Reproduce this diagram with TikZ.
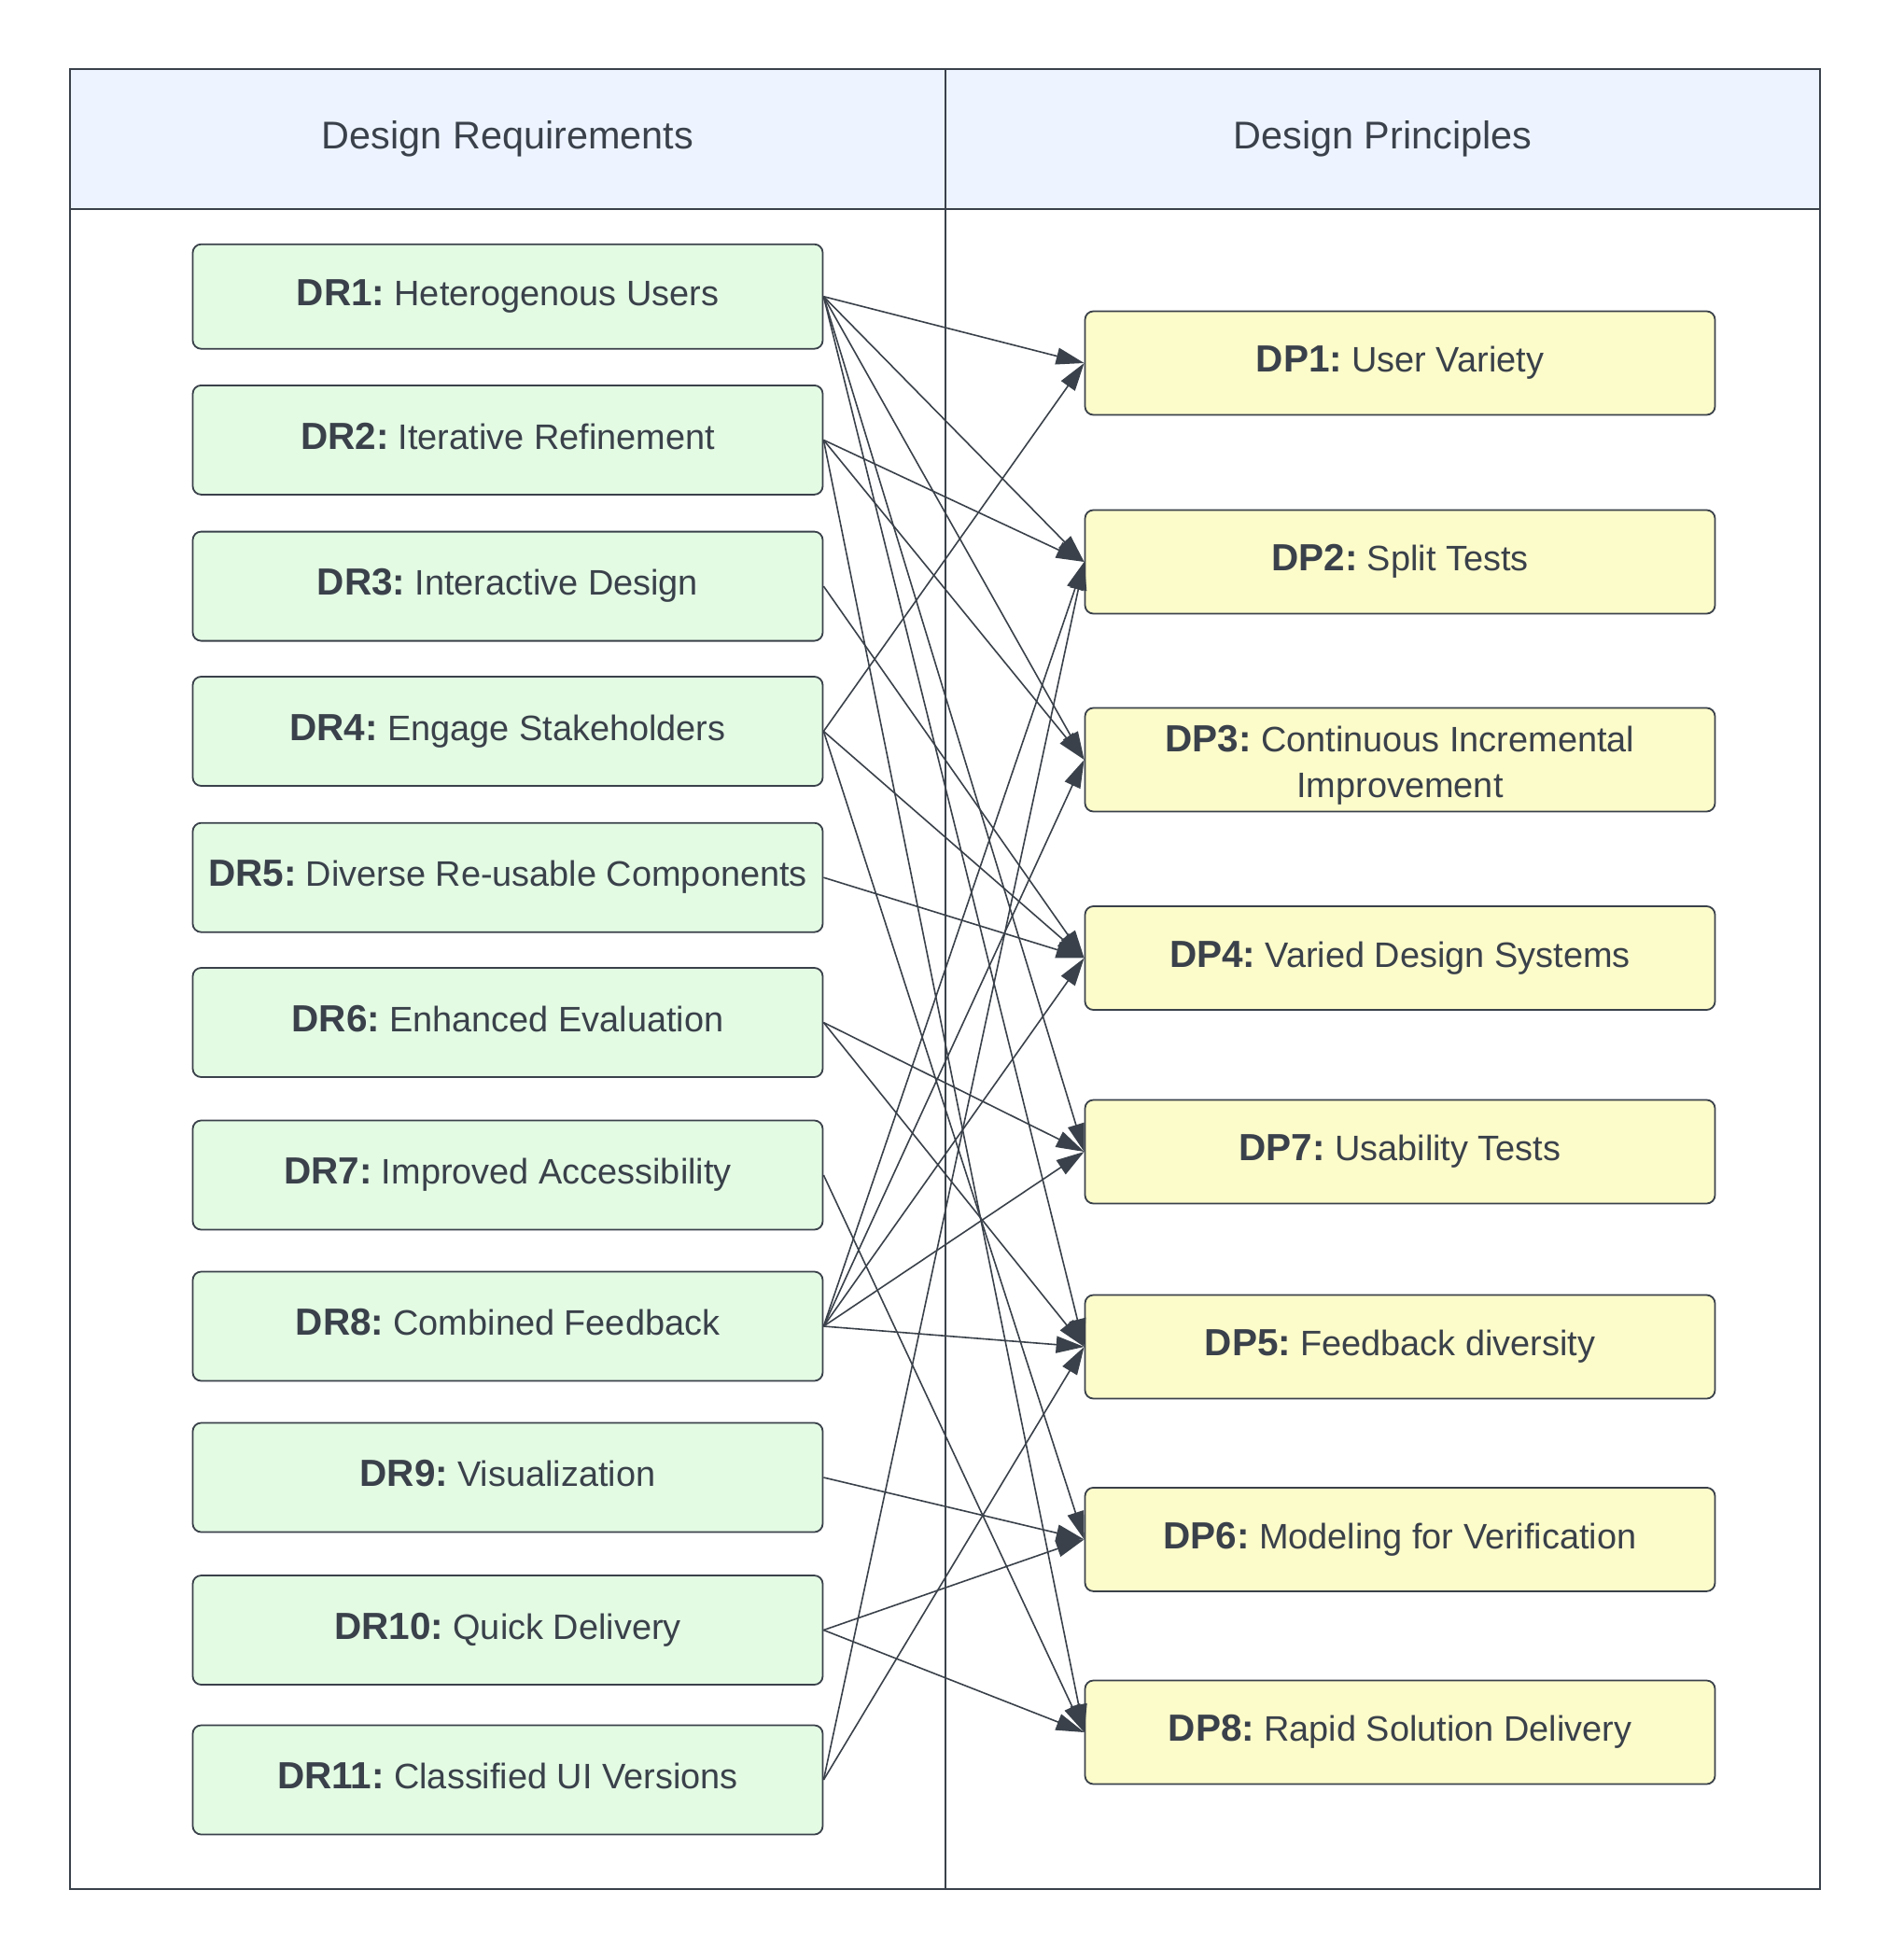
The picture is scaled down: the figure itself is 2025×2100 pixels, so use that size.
\documentclass[tikz,border=0pt]{standalone}
\usepackage{fontspec}
\setmainfont{Liberation Sans}
\usetikzlibrary{arrows.meta}
\definecolor{ink}{HTML}{3A414A}
\definecolor{hdrfill}{HTML}{EDF4FF}
\definecolor{drfill}{HTML}{E3FAE3}
\definecolor{dpfill}{HTML}{FCFBCA}
\newcommand{\lbl}[1]{{\fontsize{40.5}{47}\selectfont\bfseries #1}\hspace{0.27em}}
\begin{document}
\begin{tikzpicture}[x=1pt,y=-1pt,
  boxtext/.style={text=ink, font=\fontsize{37.9}{48.5}\selectfont, inner sep=0pt, align=center},
  box/.style={boxtext, draw=ink, line width=1.8pt, rounded corners=9pt, minimum width=675pt,
    text height=28.4pt, text depth=9.1pt},
  drbox/.style={box, fill=drfill, minimum height=117pt},
  dpbox/.style={box, fill=dpfill, minimum height=111pt},
  hdr/.style={text=ink, font=\fontsize{41.4}{50}\selectfont, inner sep=0pt},
  frame/.style={draw=ink, line width=1.9pt},
  link/.style={draw=ink, line width=1.6pt, -{Triangle[length=30pt,width=18pt]}}
]
\useasboundingbox (0,0) rectangle (2025,2100);
% table
\fill[hdrfill] (75,74.3) rectangle (1950,224);
\draw[frame] (75,74.3) rectangle (1950,2023.7);
\draw[frame] (75,224) -- (1950,224);
\draw[frame] (1013,74.3) -- (1013,2023.7);
\node[hdr] (hdrL) at (544,149) {Design Requirements};
\node[hdr] (hdrR) at (1481.5,149) {Design Principles};
% requirements
\node[drbox, minimum height=112pt] (dr1) at (544,317.7) {\lbl{DR1:}Heterogenous Users};
\node[drbox] (dr2) at (544,471.4) {\lbl{DR2:}Iterative Refinement};
\node[drbox] (dr3) at (544,628.1) {\lbl{DR3:}Interactive Design};
\node[drbox] (dr4) at (544,783.5) {\lbl{DR4:}Engage Stakeholders};
\node[drbox] (dr5) at (544,940.2) {\lbl{DR5:}Diverse Re-usable Components};
\node[drbox] (dr6) at (544,1095.5) {\lbl{DR6:}Enhanced Evaluation};
\node[drbox] (dr7) at (544,1259) {\lbl{DR7:}Improved Accessibility};
\node[drbox] (dr8) at (544,1421) {\lbl{DR8:}Combined Feedback};
\node[drbox] (dr9) at (544,1583) {\lbl{DR9:}Visualization};
\node[drbox] (dr10) at (544,1746.5) {\lbl{DR10:}Quick Delivery};
\node[drbox] (dr11) at (544,1907) {\lbl{DR11:}Classified UI Versions};
% principles
\node[dpbox] (dp1) at (1500,389) {\lbl{DP1:}User Variety};
\node[dpbox] (dp2) at (1500,602) {\lbl{DP2:}Split Tests};
\node[dpbox] (dp3) at (1500,814) {};
\node[boxtext] (dp3txt) at (1500,820) {\lbl{DP3:}Continuous Incremental\\Improvement};
\node[dpbox] (dp4) at (1500,1026.5) {\lbl{DP4:}Varied Design Systems};
\node[dpbox] (dp7) at (1500,1234) {\lbl{DP7:}Usability Tests};
\node[dpbox] (dp5) at (1500,1443) {\lbl{DP5:}Feedback diversity};
\node[dpbox] (dp6) at (1500,1649.4) {\lbl{DP6:}Modeling for Verification};
\node[dpbox] (dp8) at (1500,1856) {\lbl{DP8:}Rapid Solution Delivery};
% connectors
\draw[link] (dr1.east) -- (dp1.west);
\draw[link] (dr1.east) -- (dp2.west);
\draw[link] (dr1.east) -- (dp3.west);
\draw[link] (dr1.east) -- (dp7.west);
\draw[link] (dr1.east) -- (dp5.west);
\draw[link] (dr2.east) -- (dp2.west);
\draw[link] (dr2.east) -- (dp3.west);
\draw[link] (dr2.east) -- (dp8.west);
\draw[link] (dr3.east) -- (dp4.west);
\draw[link] (dr4.east) -- (dp1.west);
\draw[link] (dr4.east) -- (dp4.west);
\draw[link] (dr4.east) -- (dp6.west);
\draw[link] (dr5.east) -- (dp4.west);
\draw[link] (dr6.east) -- (dp7.west);
\draw[link] (dr6.east) -- (dp5.west);
\draw[link] (dr7.east) -- (dp8.west);
\draw[link] (dr8.east) -- (dp2.west);
\draw[link] (dr8.east) -- (dp3.west);
\draw[link] (dr8.east) -- (dp4.west);
\draw[link] (dr8.east) -- (dp7.west);
\draw[link] (dr8.east) -- (dp5.west);
\draw[link] (dr9.east) -- (dp6.west);
\draw[link] (dr10.east) -- (dp6.west);
\draw[link] (dr10.east) -- (dp8.west);
\draw[link] (dr11.east) -- (dp2.west);
\draw[link] (dr11.east) -- (dp5.west);
\end{tikzpicture}
\end{document}
